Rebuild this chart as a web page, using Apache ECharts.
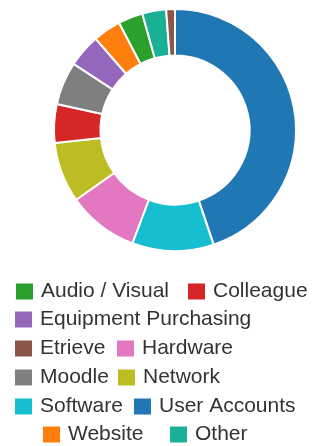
<!DOCTYPE html>
<html>
<head>
<meta charset="utf-8">
<script src="https://cdn.jsdelivr.net/npm/echarts@6/dist/echarts.min.js"></script>
<style>
html,body{margin:0;padding:0;background:#fff;}
#chart{width:322px;height:446px;}
</style>
</head>
<body>
<div id="chart"></div>
<script>
// Data (slice order, clockwise from top)
const categories = ["User Accounts","Software","Hardware","Network","Colleague","Moodle","Equipment Purchasing","Website","Audio / Visual","Other","Etrieve"];
const values = [161.4, 39.2, 34.2, 29.0, 18.6, 20.7, 15.9, 13.5, 11.8, 11.5, 4.2];
// Legend order as shown
const legendOrder = ["Audio / Visual","Colleague","Equipment Purchasing","Etrieve","Hardware","Moodle","Network","Software","User Accounts","Website","Other"];

const colorMap = {
  "User Accounts":"#1f77b4","Software":"#17becf","Hardware":"#e377c2","Network":"#bcbd22",
  "Colleague":"#d62728","Moodle":"#7f7f7f","Equipment Purchasing":"#9467bd","Website":"#ff7f0e",
  "Audio / Visual":"#2ca02c","Other":"#1ab095","Etrieve":"#8c564b"
};

// legend layout: [name, left, top]
const legendLayout = [
  ["Audio / Visual",16,281],["Colleague",188,281],
  ["Equipment Purchasing",15,309],
  ["Etrieve",15,338],["Hardware",117,338],
  ["Moodle",15,367],["Network",118,367],
  ["Software",15,396],["User Accounts",134,396],
  ["Website",43,424],["Other",170,424]
];

const chart = echarts.init(document.getElementById('chart'), null, {renderer:'canvas'});
const legends = legendLayout.map(([name,left,top]) => ({
  data:[name], left:left, top:top, padding:0, icon:'rect',
  itemWidth:17, itemHeight:16, selectedMode:false,
  itemStyle:{borderWidth:0},
  textStyle:{fontFamily:'Liberation Sans, Arial, sans-serif', fontSize:21, color:'#333', lineHeight:21, padding:[0,0,0,3]}
}));

chart.setOption({
  animation:false,
  legend: legends,
  series:[{
    type:'pie',
    center:[175,130],
    radius:[74.5,121],
    startAngle:90,
    clockwise:true,
    avoidLabelOverlap:false,
    label:{show:false}, labelLine:{show:false},
    emphasis:{disabled:true},
    itemStyle:{borderColor:'#fff', borderWidth:2},
    data: categories.map((c,i)=>({name:c, value:values[i], itemStyle:{color:colorMap[c]}}))
  }]
});
</script>
</body>
</html>
